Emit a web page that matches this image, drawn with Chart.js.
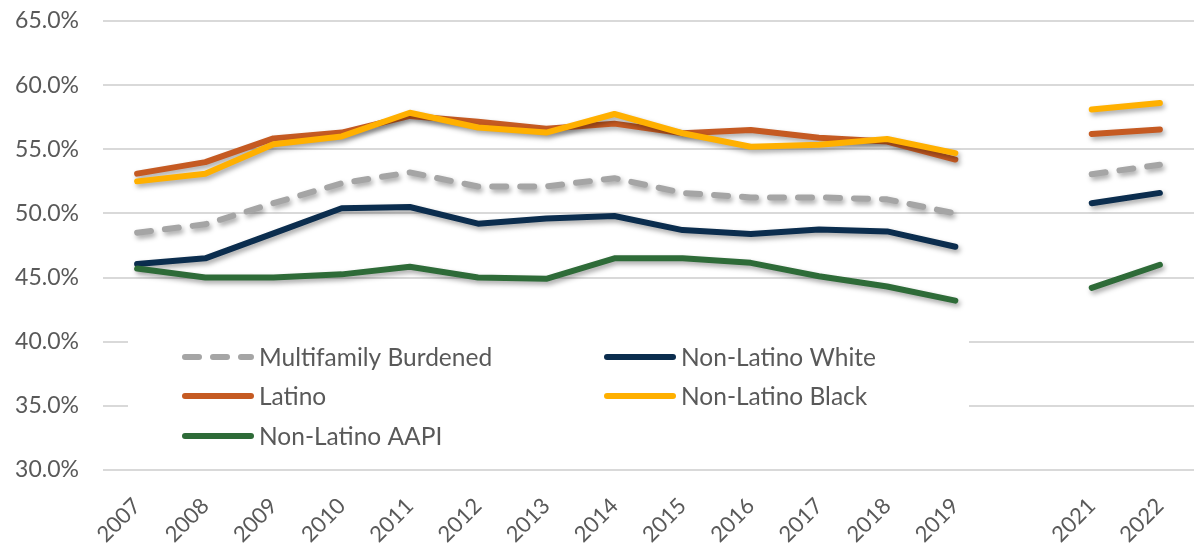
<!DOCTYPE html>
<html>
<head>
<meta charset="utf-8">
<script src="https://cdn.jsdelivr.net/npm/chart.js@4.4.1/dist/chart.umd.min.js"></script>
<style>
  html, body { margin: 0; padding: 0; background: #fff; overflow: hidden; }
  canvas { display: block; }
</style>
</head>
<body>
<canvas id="grafico" width="1194" height="543"></canvas>
<script>
// categorias (2020 fica vazio, sem dados)
var anos = ['2007', '2008', '2009', '2010', '2011', '2012', '2013', '2014', '2015', '2016', '2017', '2018', '2019', '', '2021', '2022']

var multifamily = [48.5, 49.15, 50.8, 52.35, 53.2, 52.1, 52.1, 52.75, 51.6, 51.25, 51.25, 51.1, 50.0, null, 53.05, 53.8]
var naoLatinoBranco = [46.05, 46.5, 48.45, 50.4, 50.5, 49.2, 49.6, 49.8, 48.7, 48.4, 48.75, 48.6, 47.4, null, 50.8, 51.6]
var latino = [53.1, 54.0, 55.85, 56.3, 57.6, 57.15, 56.6, 57.0, 56.25, 56.5, 55.9, 55.6, 54.2, null, 56.2, 56.55]
var naoLatinoNegro = [52.5, 53.1, 55.4, 56.0, 57.85, 56.7, 56.3, 57.75, 56.25, 55.2, 55.35, 55.8, 54.7, null, 58.1, 58.6]
var naoLatinoAapi = [45.7, 45.0, 45.0, 45.25, 45.85, 45.0, 44.9, 46.5, 46.5, 46.15, 45.1, 44.3, 43.2, null, 44.2, 46.0]

var ticksY = [30, 35, 40, 45, 50, 55, 60, 65]

var corTexto = '#595959'
var fonte = "'Lato', 'Open Sans', sans-serif"

function serie(label, data, cor, ordem, tracejado) {
  return {
    label: label,
    data: data,
    borderColor: cor,
    backgroundColor: cor,
    borderWidth: 6,
    borderCapStyle: 'round',
    borderJoinStyle: 'round',
    borderDash: tracejado ? [14, 14] : [],
    pointRadius: 0,
    tension: 0,
    fill: false,
    spanGaps: false,
    order: ordem
  }
}

var dados = {
  labels: anos,
  datasets: [
    serie('Multifamily Burdened', multifamily, '#A5A5A5', 5, true),
    serie('Non-Latino White', naoLatinoBranco, '#0B2D4E', 4),
    serie('Latino', latino, '#C55A22', 3),
    serie('Non-Latino Black', naoLatinoNegro, '#FFB000', 2),
    serie('Non-Latino AAPI', naoLatinoAapi, '#2E6B38', 1)
  ]
}

// sombra embaixo das linhas
var sombra = {
  id: 'sombra',
  beforeDatasetDraw(chart) {
    const ctx = chart.ctx
    ctx.save()
    ctx.shadowColor = 'rgba(0,0,0,0.35)'
    ctx.shadowBlur = 5
    ctx.shadowOffsetX = 2
    ctx.shadowOffsetY = 3
  },
  afterDatasetDraw(chart) {
    chart.ctx.restore()
  }
}

// legenda dentro da area do grafico
var legenda = {
  id: 'legenda',
  beforeDatasetsDraw(chart) {
    const ctx = chart.ctx
    ctx.save()
    ctx.fillStyle = '#fff'
    ctx.fillRect(128, 318, 841, 137)
    const itens = [
      [0, 182, 357], [1, 604, 357],
      [2, 182, 396], [3, 604, 396],
      [4, 182, 436]
    ]
    itens.forEach(item => {
      const ds = chart.data.datasets[item[0]]
      const x = item[1], y = item[2]
      ctx.beginPath()
      ctx.strokeStyle = ds.borderColor
      ctx.lineWidth = 6
      ctx.lineCap = 'round'
      ctx.setLineDash(ds.borderDash)
      ctx.moveTo(x + 3, y)
      ctx.lineTo(x + 69, y)
      ctx.stroke()
      ctx.setLineDash([])
      ctx.fillStyle = corTexto
      ctx.font = '24.5px ' + fonte
      ctx.textBaseline = 'middle'
      ctx.textAlign = 'left'
      ctx.fillText(ds.label, x + 77, y + 1)
    })
    ctx.restore()
  }
}

const config = {
  type: 'line',
  data: dados,
  options: {
    responsive: false,
    animation: false,
    layout: { padding: { top: 21, right: 0, bottom: 0, left: 0 } },
    plugins: {
      legend: { display: false },
      tooltip: { enabled: false }
    },
    scales: {
      x: {
        offset: true,
        grid: { display: false },
        border: { display: false },
        ticks: {
          autoSkip: false,
          maxRotation: 45,
          minRotation: 45,
          color: corTexto,
          padding: 15,
          font: { size: 22, family: fonte }
        },
        afterFit(scale) { scale.height = 73 }
      },
      y: {
        min: 30,
        max: 65,
        afterBuildTicks(scale) { scale.ticks = ticksY.map(v => ({ value: v })) },
        grid: { color: '#D9D9D9', lineWidth: 2, drawTicks: false },
        border: { display: false },
        ticks: {
          color: corTexto,
          padding: 24,
          font: { size: 23, family: fonte },
          callback: v => v.toFixed(1) + '%'
        },
        afterFit(scale) {
          scale.width = 103
          scale.paddingTop = 0
          scale.paddingBottom = 0
        }
      }
    }
  },
  plugins: [sombra, legenda]
}

new Chart(document.getElementById('grafico'), config)
</script>
</body>
</html>
